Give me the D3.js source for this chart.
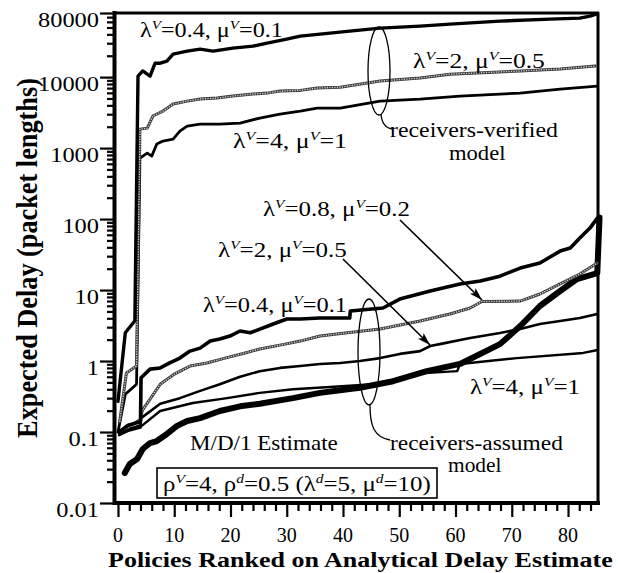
<!DOCTYPE html>
<html><head><meta charset="utf-8">
<script src="https://cdn.jsdelivr.net/npm/d3@7"></script>
<style>
html,body{margin:0;padding:0;background:#fff;}
svg{display:block;}
text{font-family:"Liberation Serif","Times New Roman",serif;fill:#000;}
</style></head><body>
<svg id="chart" width="618" height="573"></svg>
<script>
// ---------- data ----------
const xTickValues = [0, 10, 20, 30, 40, 50, 60, 70, 80];
const yTickValues = [0.01, 0.1, 1, 10, 100, 1000, 10000, 80000];
const yTickLabels = ["0.01", "0.1", "1", "10", "100", "1000", "10000", "80000"];

// receivers-verified model: [policy rank, expected delay]
const verifiedL04 = [[0,0.27],[1.3,2.5],[3,3.7],[3.56,10300],[4.4,12200],[5.7,10300],[6.6,15700],[7.5,15700],[8.7,16800],[9.8,21100],[12.3,23200],[14.6,24800],[16.9,23200],[20.4,25600],[24,27300],[26.5,30100],[30,34300],[32.4,37800],[37.7,41700],[41.2,44400],[46.6,49000],[53.7,52300],[59,55700],[67.9,61500],[76.8,65600],[82.1,67700],[83.9,72300],[85,77100]];
const verifiedL2 = [[0.3,0.14],[1.5,0.68],[3.3,0.85],[3.9,1850],[5.2,1910],[6.2,2830],[8,3320],[9.8,4170],[12.3,4590],[14.6,4900],[17.6,5060],[20.4,5400],[24,5770],[26.5,5950],[28.8,6350],[32.4,6500],[35.4,7000],[39.5,7200],[46.6,8790],[53.7,9690],[59,11000],[71.5,12200],[78.6,13000],[84.8,14300]];
const verifiedL4 = [[0,0.1],[1.3,0.34],[3.3,0.47],[3.9,723],[5.2,851],[6,771],[6.9,1140],[8,1255],[9.8,1340],[11,1735],[12.3,2040],[14.6,2180],[18.1,2180],[21.7,2250],[25.2,2650],[28.8,3010],[32.4,3320],[35.4,3660],[39.5,3660],[46.6,4590],[53.7,4900],[60.8,5400],[71.5,5950],[78.6,6770],[85.2,7470]];

// receivers-assumed model
const assumedL04 = [[0.2,0.1],[1.8,0.125],[4,0.14],[4.1,0.58],[5.7,0.77],[7.5,0.8],[9.2,0.94],[11,1.1],[12.8,1.38],[14.6,1.52],[16.4,1.91],[18.1,2.04],[19.9,2.25],[21.7,2.65],[23.5,2.5],[27.6,3.32],[30,3.91],[32.4,3.91],[35.9,4.03],[41.2,4.03],[41.3,5.06],[47.1,5.58],[50.1,7.47],[55.5,9.7],[60.8,12.2],[64.4,13.4],[67.9,15.7],[71.5,20.4],[75,24],[78.6,35.4],[80.4,39],[82.1,54],[83.9,74.7],[85.2,103]];
const assumedL08 = [[0.2,0.1],[2,0.12],[4,0.15],[4.3,0.2],[7.5,0.47],[10.1,0.66],[12.8,0.85],[15.8,0.94],[19,1.1],[22.6,1.3],[25.2,1.48],[29.7,1.73],[32.4,1.91],[35.9,2.25],[40.4,2.48],[46.6,2.83],[53.7,3.66],[59,4.59],[62.6,5.58],[64.7,6.9],[71.5,7.0],[75,8.79],[78.6,12.2],[82.1,16.8],[85.2,24]];
const assumedL2 = [[0.2,0.095],[2,0.11],[4,0.125],[4.1,0.157],[7.5,0.25],[11,0.3],[14.6,0.38],[18.1,0.47],[21.7,0.6],[25.2,0.72],[28.8,0.8],[32.4,0.85],[35.9,0.91],[39.5,0.94],[43,1.0],[46.6,1.1],[50.1,1.26],[53.7,1.38],[55.5,1.63],[57.2,1.73],[62.6,2.11],[67.9,2.48],[71.5,2.83],[75,3.32],[78.6,3.66],[82.1,4.03],[85.2,4.59]];
const assumedL4 = [[0.2,0.09],[2,0.105],[4,0.115],[4.1,0.12],[7.5,0.198],[13.3,0.256],[19.4,0.3],[25.2,0.356],[31.1,0.4],[37.7,0.43],[45.3,0.47],[53.7,0.67],[60.3,0.72],[60.8,0.91],[70.9,1.1],[82.7,1.3],[85.3,1.43]];

// M/D/1 analytical estimate
const md1Estimate = [[1.2,0.0265],[2.1,0.0354],[3.4,0.0417],[4.4,0.0577],[5.7,0.07],[6.9,0.0747],[8.7,0.094],[10.5,0.122],[12.3,0.143],[14.6,0.157],[18.1,0.198],[21.7,0.23],[25.2,0.25],[31.1,0.3],[35.9,0.356],[43,0.42],[48.9,0.52],[54.9,0.72],[60.8,0.91],[67.9,1.73],[71.5,3.11],[75,5.96],[78.6,9.7],[81.6,14.3],[85.2,17.3],[85.6,105]];

// ---------- layout ----------
const svg = d3.select("#chart");
svg.append("rect").attr("width", 618).attr("height", 573).attr("fill", "#fff");

const L = 115, R = 598, T = 13, B = 503;
const x = d3.scaleLinear().domain([-0.53, 85.33]).range([L, R]);
const y = d3.scaleLog().domain([0.01, 80000]).range([B, T]);

// stretch a text group horizontally so it spans a given width
function fitWidth(g, textSel, x0, baseline, width, anchor) {
  const w = textSel.node().getBBox().width;
  const s = width / w;
  const tx = anchor === "middle" ? x0 : x0;
  g.attr("transform", `translate(${tx},${baseline}) scale(${s},1)`);
}

// label text with single-letter italic superscripts written as ^X
function richLabel(parent, str, x0, baseline, width, size) {
  const g = parent.append("g");
  const t = g.append("text").attr("font-size", size).attr("x", 0).attr("y", 0);
  const pieces = str.split(/(\^\w)/).filter(p => p.length);
  let up = false;
  pieces.forEach(p => {
    if (p[0] === "^") {
      const ts = t.append("tspan").text(p[1]).attr("font-size", size * 0.62).attr("font-style", "italic");
      if (!up) { ts.attr("dy", -size * 0.42); up = true; }
    } else {
      const ts = t.append("tspan").text(p);
      if (up) { ts.attr("dy", size * 0.42); up = false; }
    }
  });
  fitWidth(g, t, x0, baseline, width);
  return g;
}

// ---------- axes ----------
const xMinor = d3.range(0, 86, 2).filter(v => v % 10 !== 0);
const yMinor = [];
for (let k = -2; k <= 4; k++) for (let m = 2; m <= 9; m++) {
  const v = m * Math.pow(10, k);
  if (v < 80000) yMinor.push(v);
}

const xAxisMinor = svg.append("g").attr("transform", `translate(0,${B})`)
  .call(d3.axisBottom(x).tickValues(xMinor).tickSize(8).tickSizeOuter(0).tickFormat(""));
const xAxisMajor = svg.append("g").attr("transform", `translate(0,${B})`)
  .call(d3.axisBottom(x).tickValues(xTickValues).tickSize(14).tickSizeOuter(0).tickFormat(""));
const yAxisMinor = svg.append("g").attr("transform", `translate(${L},0)`)
  .call(d3.axisLeft(y).tickValues(yMinor).tickSize(8).tickSizeOuter(0).tickFormat(""));
const yAxisMajor = svg.append("g").attr("transform", `translate(${L},0)`)
  .call(d3.axisLeft(y).tickValues(yTickValues).tickSize(15).tickSizeOuter(0).tickFormat(""));
[xAxisMinor, xAxisMajor, yAxisMinor, yAxisMajor].forEach(a => {
  a.select(".domain").remove();
  a.selectAll(".tick line").attr("stroke", "#000").attr("stroke-width", 2.2);
});

// tick labels
svg.append("g").selectAll("text").data(xTickValues).join("text")
  .attr("x", d => x(d)).attr("y", 542).attr("text-anchor", "middle")
  .attr("font-size", 20).text(d => d);
svg.append("g").selectAll("g").data(yTickValues).join("g")
  .attr("transform", d => `translate(99,${y(d) + 14}) scale(1.22,1)`)
  .append("text").attr("text-anchor", "end").attr("font-size", 20)
  .text((d, i) => yTickLabels[i]);

// frame
const frame = svg.append("g").attr("stroke", "#000").attr("fill", "none");
frame.append("line").attr("x1", L - 2).attr("x2", R + 1).attr("y1", T).attr("y2", T).attr("stroke-width", 3);
frame.append("line").attr("x1", R).attr("x2", R).attr("y1", T - 1).attr("y2", B + 2).attr("stroke-width", 3);
frame.append("line").attr("x1", L - 0.5).attr("x2", L - 0.5).attr("y1", T - 2).attr("y2", B + 2).attr("stroke-width", 4);
frame.append("line").attr("x1", L - 2).attr("x2", R + 2).attr("y1", B).attr("y2", B).attr("stroke-width", 4);

// ---------- series ----------
const line = d3.line().x(d => x(d[0])).y(d => y(d[1]));
const plotG = svg.append("g").attr("fill", "none").attr("stroke-linejoin", "round").attr("stroke-linecap", "round");

function solid(data, w) {
  plotG.append("path").datum(data).attr("d", line).attr("stroke", "#000").attr("stroke-width", w);
}
function stippled(data) {
  plotG.append("path").datum(data).attr("d", line).attr("stroke", "#3a3a3a").attr("stroke-width", 3);
  plotG.append("path").datum(data).attr("d", line).attr("stroke", "#d6d6d6").attr("stroke-width", 1.4)
    .attr("stroke-dasharray", "1.2 1.3").attr("stroke-linecap", "butt");
}

solid(md1Estimate, 6);
solid(assumedL4, 2.4);
solid(assumedL2, 2.6);
stippled(assumedL08);
solid(assumedL04, 3.6);
solid(verifiedL4, 2.8);
stippled(verifiedL2);
solid(verifiedL04, 3.4);

// ---------- annotations ----------
const ann = svg.append("g");
const labels = [
  ["λ^V=0.4, μ^V=0.1", 140, 37, 143],
  ["λ^V=2, μ^V=0.5", 413, 68, 132],
  ["λ^V=4, μ^V=1", 233, 148, 114],
  ["λ^V=0.8, μ^V=0.2", 263, 216, 147],
  ["λ^V=2, μ^V=0.5", 218, 257, 129],
  ["λ^V=0.4, μ^V=0.1", 203, 312, 144],
  ["λ^V=4, μ^V=1", 470, 394, 110]
];
labels.forEach(([s, lx, ly, lw]) => richLabel(ann, s, lx, ly, lw, 20));

function plainLabel(s, lx, ly, lw, size) {
  const g = ann.append("g");
  const t = g.append("text").attr("font-size", size).text(s);
  fitWidth(g, t, lx, ly, lw);
}
plainLabel("receivers-verified", 390, 137, 168, 20);
plainLabel("model", 449, 160, 57, 20);
plainLabel("M/D/1 Estimate", 190, 450, 148, 20);
plainLabel("receivers-assumed", 390, 450, 173, 20);
plainLabel("model", 448, 472, 54, 20);

// grouping ellipses and leaders
ann.append("ellipse").attr("cx", 379).attr("cy", 71).attr("rx", 11).attr("ry", 44)
  .attr("fill", "none").attr("stroke", "#000").attr("stroke-width", 1.3);
ann.append("path").attr("d", "M381,114 Q382,128 393,129").attr("fill", "none").attr("stroke", "#000").attr("stroke-width", 1.3);
ann.append("ellipse").attr("cx", 369).attr("cy", 352).attr("rx", 11).attr("ry", 53)
  .attr("fill", "none").attr("stroke", "#000").attr("stroke-width", 1.3);
ann.append("path").attr("d", "M370,405 C370,426 374,437 390,440").attr("fill", "none").attr("stroke", "#000").attr("stroke-width", 1.3);

// arrows
svg.append("defs").append("marker").attr("id", "head")
  .attr("markerUnits", "userSpaceOnUse").attr("markerWidth", 14).attr("markerHeight", 10)
  .attr("refX", 13).attr("refY", 4).attr("orient", "auto")
  .append("path").attr("d", "M0,0 L13,4 L0,8 L3,4 Z").attr("fill", "#000");
ann.append("line").attr("x1", 400).attr("y1", 220).attr("x2", 482).attr("y2", 300)
  .attr("stroke", "#000").attr("stroke-width", 1.6).attr("marker-end", "url(#head)");
ann.append("line").attr("x1", 343).attr("y1", 259).attr("x2", 430).attr("y2", 345)
  .attr("stroke", "#000").attr("stroke-width", 1.6).attr("marker-end", "url(#head)");

// parameter box
ann.append("rect").attr("x", 157).attr("y", 468).attr("width", 280).attr("height", 30)
  .attr("fill", "#fff").attr("stroke", "#000").attr("stroke-width", 1.6);
richLabel(ann, "ρ^V=4, ρ^d=0.5 (λ^d=5, μ^d=10)", 163, 491, 268, 20);

// axis titles
const xt = svg.append("g");
const xtText = xt.append("text").attr("font-size", 21).attr("font-weight", "bold")
  .text("Policies Ranked on Analytical Delay Estimate");
fitWidth(xt, xtText, 108, 567, 505);

const yt = svg.append("g");
const ytText = yt.append("text").attr("font-size", 22).attr("font-weight", "bold")
  .attr("text-anchor", "middle").text("Expected Delay (packet lengths)");
const ytw = ytText.node().getBBox().width;
yt.attr("transform", `translate(37,258) rotate(-90) scale(${360 / ytw},1.3)`);
</script>
</body></html>
